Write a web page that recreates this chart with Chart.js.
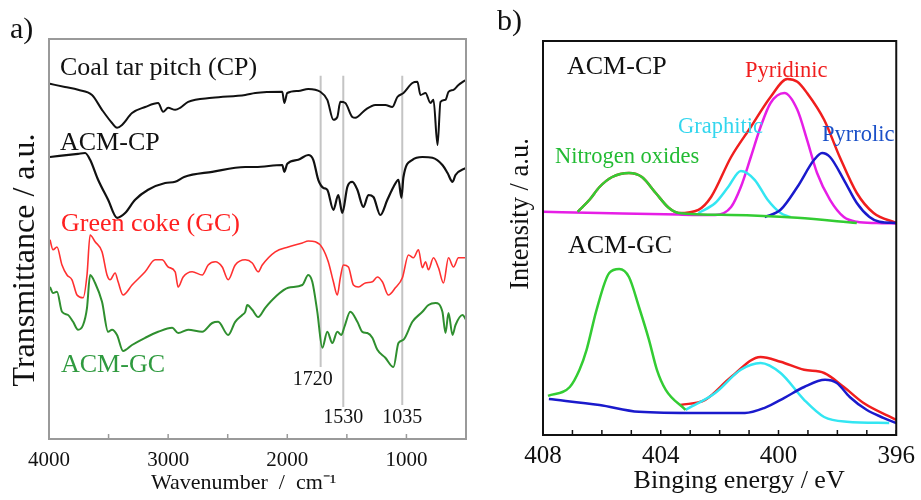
<!DOCTYPE html>
<html>
<head>
<meta charset="utf-8">
<script src="https://cdn.jsdelivr.net/npm/chart.js@4.4.0/dist/chart.umd.min.js"></script>
<style>
  html, body { margin: 0; padding: 0; background: #fff; }
  #wrap { position: relative; width: 921px; height: 500px; }
  canvas { position: absolute; top: 0; }
  #ftir { left: 0; }
  #xps { left: 490px; }
</style>
</head>
<body>
<div id="wrap">
  <canvas id="ftir" width="490" height="500"></canvas>
  <canvas id="xps" width="431" height="500"></canvas>
</div>
<script>
// a) FTIR spectra (wavenumber cm-1, transmittance a.u. with offsets)
const cpWave = [3992,3866,3756,3639,3555,3471,3429,3387,3303,3193,3084,3042,3000,2941,2899,2832,2630,2353,2269,2042,2025,2000,1908,1824,1723,1664,1613,1580,1555,1513,1454,1429,1345,1261,1177,1118,1076,1025,950,908,882,840,798,773,739,714,672,647,605,563,500];
const cpT = [88.8,88,87.3,86,82.3,79,77.8,78.5,81.5,83,84,81.8,82.8,82.3,82.8,84.3,85.3,86,86.5,86.8,84,86.5,87,87.5,86.8,84.8,79.8,80.5,84.3,84,80.5,80.3,82.3,83.5,83.5,83,85.5,86.5,89,89.3,86,86.5,84,84.8,73.5,84.3,84.8,86.8,87.3,88.5,89.8];

const acmCpWave = [3992,3756,3697,3655,3588,3504,3429,3361,3277,3168,3025,2941,2866,2630,2353,2269,2042,2025,2000,1908,1824,1782,1740,1698,1664,1613,1572,1538,1496,1454,1412,1361,1319,1277,1219,1160,1109,1067,1042,1025,950,866,782,698,655,613,588,500];
const acmCpT = [70.5,71.3,71.5,69.8,64.8,59.8,55.3,56.5,59.8,62.3,64,64.3,65.5,66.8,68,68,68.5,66.8,68.8,69.8,71,69.8,64.8,62.8,62.3,57.3,61,56.5,63,64.3,62.3,58,61,60.5,56,59.8,63,64.8,60.3,65.5,69.8,70.5,70.3,68.5,66.5,64.3,66,67.8];

const gcWave = [3992,3966,3933,3891,3849,3807,3765,3714,3681,3655,3613,3555,3513,3487,3445,3420,3378,3303,3193,3109,3050,3000,2941,2916,2874,2798,2714,2664,2605,2546,2496,2437,2353,2294,2244,2210,2101,1992,1874,1824,1765,1706,1656,1613,1580,1555,1529,1487,1445,1403,1345,1286,1244,1202,1151,1093,1034,983,941,899,866,840,815,773,731,689,647,605,563,500];
const gcT = [49.8,47.3,48,43.5,41,39.8,36,35.3,41,51,49.3,46.8,41,39.8,41.5,39.3,36,38.5,41.8,44.8,44.8,43,41.8,38,40.5,41.8,41,43.5,44.3,43,39.8,43.5,44.8,44,41.8,43.5,46.8,48,49,49.5,49.3,47.8,44.3,39.3,36,40.3,43.5,43,38.5,38,39,39.3,40.5,39.3,36,37.8,40.3,46,45.3,47.3,42.8,44.3,42.3,45.3,42.8,39,45.3,43,45.3,45.3];

const acmGcWave = [3992,3966,3933,3891,3840,3798,3756,3714,3681,3655,3613,3555,3504,3471,3429,3378,3303,3193,3084,2966,2916,2832,2714,2630,2580,2496,2437,2378,2353,2336,2294,2244,2185,2101,1992,1874,1824,1790,1748,1706,1664,1622,1580,1546,1521,1471,1412,1370,1328,1286,1244,1177,1109,1067,1025,950,866,815,756,698,672,647,613,588,529,500];
const acmGcT = [38,36.5,36.8,31.8,31,29.3,27.3,28.5,32.8,41,39,34.3,26.8,27.3,26,22,23.5,25.3,26.8,27.8,26.5,27.3,26.8,29,29.3,26,29.3,31,31.8,33.5,32.3,30.5,32.8,35.5,37.8,38.5,41,39.3,31.8,22.8,26.8,24,26.8,26,28,31.8,29.3,26.8,26.5,25.3,22.3,20.3,18,24,24.8,29.3,31.8,33.5,34,31.8,26.5,31.5,26,28.5,31,29.8];

const markerWaves = [1720, 1530, 1035];
const markerTop = 90.8;
const markerBottoms = [18, 8, 8.5];

const ftirTicks = [4000, 3000, 2000, 1000];
const ftirMinorTicks = [4000, 3500, 3000, 2500, 2000, 1500, 1000, 500];

// b) N1s XPS (binding energy eV, intensity a.u.)
const cpEnvE = [406.82,406.42,406.08,405.65,405.08,404.64,404.17,403.73,403.39,402.72,402.29,401.61,400.94,400.27,399.70,399.36,399.03,398.45,397.92,397.34,396.77,396];
const cpEnvI = [55.8,58.8,62,64.5,65.5,64.5,60.5,56.8,55.5,56.3,59.5,69.5,77,84.5,89,88.3,85.5,78.8,69.5,60.5,55.5,53];
const cpPyridinicE = [408,406.08,403.39,402.15,401.61,401.28,400.94,400.61,400.27,399.80,399.36,399.03,398.69,398.25,397.78,397.34,396.67,396];
const cpPyridinicI = [55.8,55.5,55.1,55,57,62,69.5,77,83,85.5,81.3,73.8,65.5,58.8,54.5,53.3,53,52.9];
const cpNoxE = [406.82,406.42,406.08,405.65,405.08,404.64,404.17,403.73,403.39,401.61,399.36,397.34];
const cpNoxI = [55.8,58.8,62,64.5,65.5,64.5,60.5,56.8,55.5,55,54.3,53];
const cpGraphiticE = [402.72,402.15,401.71,401.28,400.81,400.37,399.93,399.60];
const cpGraphiticI = [55.5,58,62,66,63.8,58.8,55.5,54.5];
const cpPyrrolicE = [400.47,399.93,399.36,398.79,398.52,398.25,397.78,397.34,396.91,396.57,396];
const cpPyrrolicI = [54.5,56.3,62,68.8,70.5,69.5,63.8,58,54.5,53.3,53];

const gcEnvE = [403.33,402.49,401.61,400.61,399.93,399.13,398.45,397.78,397.11,396];
const gcEnvI = [7.5,8.8,14.5,19.5,18.3,16.3,15.5,12,8,3.8];
const gcPyrrolicE = [407.80,406.08,404.74,402.72,401.14,400.47,399.80,399.13,398.42,398.02,397.58,397.01,396.44,396];
const gcPyrrolicI = [9,7.5,5.8,5.5,5.5,6.8,9.3,12,13.8,13,9.5,6.3,4.3,3];
const gcNoxE = [407.83,407.09,406.76,406.52,406.18,405.75,405.41,405.08,404.74,404.40,404.13,403.83,403.16];
const gcNoxI = [9.8,12,16.3,21.3,31.3,40.5,41.5,39.5,32,23.8,16.3,11.3,6.3];
const gcGraphiticE = [403.16,402.15,401.28,400.61,399.93,399.13,398.45,397.68,396.24];
const gcGraphiticI = [6.3,10.5,16.3,18,15.5,8.8,4.5,3.3,3];

const xpsTicks = [408, 404, 400, 396];
const xpsMinorTicks = [408,407,406,405,404,403,402,401,400,399,398,397,396];

const SERIF = '"Liberation Serif", "Times New Roman", serif';
Chart.defaults.font.family = SERIF;
Chart.defaults.color = '#111';

function series(xs, ys, color, width, order) {
    return {
        data: xs.map((x, i) => ({ x: x, y: ys[i] })),
        borderColor: color,
        borderWidth: width,
        pointRadius: 0,
        fill: false,
        cubicInterpolationMode: 'monotone',
        order: order
    };
}

// frame round the plot area and small inside ticks on the bottom axis
function framePlugin(color, minor) {
    return {
        id: 'frame',
        afterDatasetsDraw(chart) {
            const ctx = chart.ctx, a = chart.chartArea, x = chart.scales.x;
            ctx.save();
            ctx.strokeStyle = color;
            ctx.lineWidth = 2;
            ctx.strokeRect(a.left, a.top, a.right - a.left, a.bottom - a.top);
            ctx.lineWidth = 1.5;
            ctx.beginPath();
            minor.forEach(v => {
                const px = x.getPixelForValue(v);
                ctx.moveTo(px, a.bottom);
                ctx.lineTo(px, a.bottom - 5);
            });
            ctx.stroke();
            ctx.restore();
        }
    };
}

// text notes: labels of curves, panel letters, y titles
function notesPlugin(getNotes) {
    return {
        id: 'notes',
        afterDraw(chart) {
            const ctx = chart.ctx;
            getNotes(chart).forEach(t => {
                ctx.save();
                ctx.font = t.size + 'px ' + SERIF;
                ctx.fillStyle = t.color || '#111';
                ctx.textAlign = t.align || 'left';
                ctx.textBaseline = t.baseline || 'alphabetic';
                ctx.translate(t.x, t.y);
                if (t.rot) ctx.rotate(t.rot);
                ctx.fillText(t.text, 0, 0);
                ctx.restore();
            });
        }
    };
}

function xAxis(min, max, ticks, height, tickFont, tickPad, title, titleFont, titlePad) {
    return {
        type: 'linear', min: min, max: max, reverse: true,
        afterBuildTicks: s => { s.ticks = ticks.map(v => ({ value: v })); },
        afterFit: s => { s.height = height; },
        grid: { display: false, drawTicks: false },
        border: { display: false },
        ticks: { padding: tickPad, font: { size: tickFont }, color: '#111', callback: v => String(v) },
        title: { display: true, text: title, font: { size: titleFont }, color: '#111', padding: { top: 0, bottom: titlePad } }
    };
}

// ---- panel a ----
const markerSets = markerWaves.map((w, i) =>
    series([w, w], [markerTop, markerBottoms[i]], '#c4c4c4', 2, 10));

const ftirChart = new Chart(document.getElementById('ftir'), {
    type: 'line',
    data: {
        datasets: [
            series(cpWave, cpT, '#111', 2, 1),
            series(acmCpWave, acmCpT, '#111', 2.2, 2),
            series(gcWave, gcT, '#ff3030', 1.6, 3),
            series(acmGcWave, acmGcT, '#2f8f2f', 2, 4)
        ].concat(markerSets)
    },
    options: {
        responsive: false,
        animation: false,
        layout: { padding: { top: 39, right: 24, left: 49, bottom: 0 } },
        plugins: { legend: { display: false }, tooltip: { enabled: false } },
        scales: {
            // trailing spaces move the centred title a little to the left, as in the original
            x: xAxis(500, 4000, ftirTicks, 61, 21, 9, 'Wavenumber  /  cm\u207B\u00B9     ', 22, 4),
            y: { display: false, min: 0, max: 100 }
        }
    },
    plugins: [
        framePlugin('#9a9a9a', ftirMinorTicks),
        notesPlugin(chart => {
            const x = chart.scales.x;
            return [
                { text: 'a)', x: 10, y: 38, size: 30 },
                { text: 'Transmittance / a.u.', x: 26, y: 260, size: 32, align: 'center', baseline: 'middle', rot: -Math.PI / 2 },
                { text: 'Coal tar pitch (CP)', x: 60, y: 75, size: 26 },
                { text: 'ACM-CP', x: 60, y: 150, size: 26 },
                { text: 'Green coke (GC)', x: 61, y: 231, size: 26, color: '#ff2020' },
                { text: 'ACM-GC', x: 61, y: 372, size: 26, color: '#2f9a3f' },
                { text: '1720', x: x.getPixelForValue(markerWaves[0]) - 8, y: 385, size: 20, align: 'center' },
                { text: '1530', x: x.getPixelForValue(markerWaves[1]), y: 423, size: 20, align: 'center' },
                { text: '1035', x: x.getPixelForValue(markerWaves[2]), y: 423, size: 20, align: 'center' }
            ];
        })
    ]
});

// ---- panel b ----
const xpsChart = new Chart(document.getElementById('xps'), {
    type: 'line',
    data: {
        datasets: [
            series(cpNoxE, cpNoxI, '#33cc33', 2.5, 1),
            series(cpPyrrolicE, cpPyrrolicI, '#1a1acc', 2.5, 2),
            series(cpGraphiticE, cpGraphiticI, '#33e6f2', 2.5, 3),
            series(cpPyridinicE, cpPyridinicI, '#e61ee6', 2.5, 4),
            series(cpEnvE, cpEnvI, '#f01e1e', 2.5, 5),
            series(gcNoxE, gcNoxI, '#33cc33', 2.5, 6),
            series(gcPyrrolicE, gcPyrrolicI, '#1a1acc', 2.5, 7),
            series(gcGraphiticE, gcGraphiticI, '#33e6f2', 2.5, 8),
            series(gcEnvE, gcEnvI, '#f01e1e', 2.5, 9)
        ]
    },
    options: {
        responsive: false,
        animation: false,
        layout: { padding: { top: 41, right: 21, left: 53, bottom: 0 } },
        plugins: { legend: { display: false }, tooltip: { enabled: false } },
        scales: {
            // leading spaces move the centred title a little to the right, as in the original
            x: xAxis(396, 408, xpsTicks, 65, 25, 6, '      Binging energy / eV', 26, 3),
            y: { display: false, min: 0, max: 98.5 }
        }
    },
    plugins: [
        framePlugin('#111', xpsMinorTicks),
        notesPlugin(() => [
            { text: 'b)', x: 7, y: 30, size: 30 },
            { text: 'Intensity / a.u.', x: 31, y: 214, size: 26.5, align: 'center', baseline: 'middle', rot: -Math.PI / 2 },
            { text: 'ACM-CP', x: 77, y: 74, size: 26 },
            { text: 'Pyridinic', x: 255, y: 77, size: 22.5, color: '#f01e1e' },
            { text: 'Graphitic', x: 188, y: 133, size: 22.5, color: '#33d6ee' },
            { text: 'Pyrrolic', x: 332, y: 141, size: 22.5, color: '#1a50c8' },
            { text: 'Nitrogen oxides', x: 65, y: 163, size: 22.5, color: '#22bb33' },
            { text: 'ACM-GC', x: 78, y: 253, size: 26 }
        ])
    ]
});
</script>
</body>
</html>
